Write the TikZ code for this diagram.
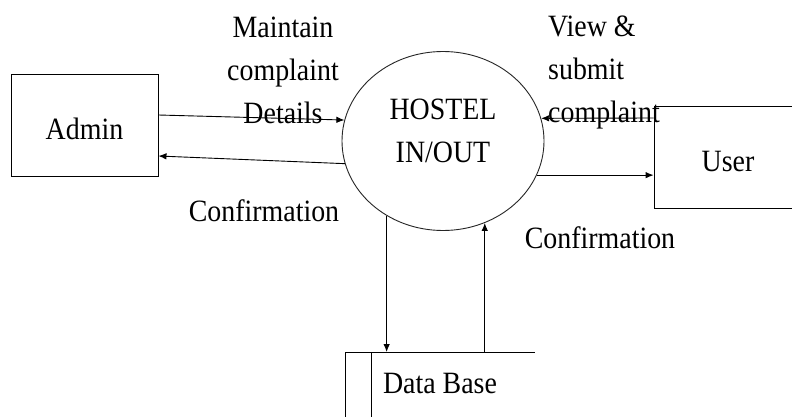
\documentclass[tikz,border=0pt]{standalone}
\usepackage{fontspec}
\setmainfont{Liberation Serif}[FakeStretch=0.9]
\usetikzlibrary{arrows.meta,shapes.geometric,calc}
\begin{document}
\begin{tikzpicture}[x=1pt,y=-1pt,
  lbl/.style={font=\fontsize{31}{43}\selectfont,inner sep=0pt,text=black},
  box/.style={draw=black,line width=0.9pt,minimum width=147pt,minimum height=102pt,inner sep=0pt},
  flow/.style={draw=black,line width=0.9pt,-{Latex[length=8pt,width=6.5pt]}},
  edge/.style={draw=black,line width=0.9pt}]
\useasboundingbox (0,0) rectangle (792,417);
\clip (0,0) rectangle (792,417);
\fill[white] (0,0) rectangle (792,417);
% entities
\node[box] (admin) at (84.5,125) {};
\node[lbl] (admintext) at (84.5,129) {Admin};
\node[box,minimum width=160pt] (user) at (734,157) {};
\node[lbl] (usertext) at (728,162) {User};
% process
\node[draw=black!85,line width=0.9pt,ellipse,minimum width=202pt,minimum height=179pt,inner sep=0pt] (hostel) at (443,141) {};
\node[lbl,align=center] (hosteltext) at (443,131) {HOSTEL\\IN/OUT};
% data store
\coordinate (dbtl) at (345,352);
\coordinate (dbtr) at (535,352);
\coordinate (dbbl) at (345,420);
\coordinate (dbil) at (371,352);
\coordinate (dbib) at (371,420);
\draw[edge] (dbbl) -- (dbtl) -- (dbtr);
\draw[edge] (dbil) -- (dbib);
\node[lbl] (db) at (440,383) {Data Base};
% flows
\draw[flow] ([yshift=10pt]admin.east) -- (hostel.168);
\draw[flow] (hostel.193) -- ([yshift=-31pt]admin.east);
\draw[flow] ([yshift=39pt]user.west) -- (hostel.13);
\draw[flow] (hostel.-20) -- (hostel.-20 -| user.west);
\draw[flow] (hostel.233) -- (hostel.233 |- dbtl);
\draw[flow] (hostel.-63 |- dbtl) -- (hostel.-63);
% labels
\node[lbl,align=center] (l1) at (283,70) {Maintain\\complaint\\Details};
\node[lbl,align=left,anchor=west] (l2) at (548,72) {View \&\\submit\\complaint};
\node[lbl] (l3) at (264,211) {Confirmation};
\node[lbl] (l4) at (600,238) {Confirmation};
\end{tikzpicture}
\end{document}
